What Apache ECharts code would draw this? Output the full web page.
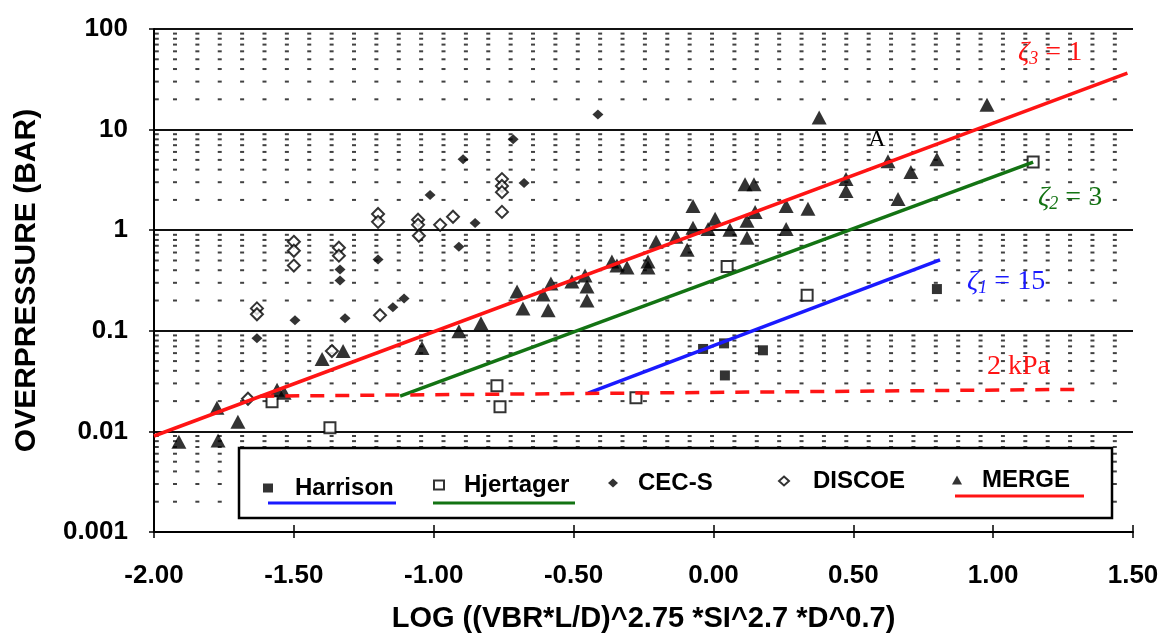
<!DOCTYPE html>
<html>
<head>
<meta charset="utf-8">
<script src="https://cdn.jsdelivr.net/npm/echarts@6/dist/echarts.min.js"></script>
<style>
html,body{margin:0;padding:0;background:#fff;}
#chart{width:1169px;height:638px;}
</style>
</head>
<body>
<div id="chart"></div>
<script>
// ---- tick labels ----
const xTickLabels = ['-2.00','-1.50','-1.00','-0.50','0.00','0.50','1.00','1.50'];
const yTickLabels = ['0.001','0.01','0.1','1','10','100'];

// ---- data series (x = LOG(...), y = overpressure in bar) ----
const harrisonX = [-0.037, 0.038, 0.177, 0.041, 0.799];
const harrisonY = [0.066, 0.075, 0.064, 0.036, 0.26];

const hjertagerX = [-1.578, -1.371, -0.774, -0.763, -0.277, 0.049, 0.335, 1.143];
const hjertagerY = [0.0197, 0.0109, 0.0284, 0.0176, 0.0216, 0.435, 0.225, 4.75];

const cecsX = [-1.632, -1.496, -1.335, -1.335, -1.317, -1.199, -1.146, -1.106, -1.013, -0.910, -0.895, -0.852, -0.716, -0.677, -0.413];
const cecsY = [0.0845, 0.127, 0.406, 0.316, 0.133, 0.511, 0.171, 0.210, 2.24, 0.686, 5.08, 1.18, 8.0, 2.94, 14.1];

const discoeX = [-1.664, -1.632, -1.632, -1.500, -1.500, -1.500, -1.364, -1.339, -1.339, -1.199, -1.199, -1.192, -1.056, -1.056, -1.053, -0.977, -0.931, -0.756, -0.756, -0.756, -0.756];
const discoeY = [0.0211, 0.167, 0.146, 0.767, 0.625, 0.445, 0.0629, 0.670, 0.558, 1.45, 1.21, 0.143, 1.27, 1.13, 0.881, 1.13, 1.36, 3.22, 2.75, 2.39, 1.52];

const mergeX = [-1.911, -1.771, -1.775, -1.700, -1.560, -1.535, -1.399, -1.324, -1.042, -0.910, -0.831, -0.702, -0.681, -0.609, -0.591, -0.581, -0.506, -0.459, -0.452, -0.452, -0.363, -0.345, -0.309, -0.234, -0.234, -0.205, -0.134, -0.094, -0.073, -0.073, -0.019, 0.006, 0.059, 0.113, 0.145, 0.120, 0.149, 0.120, 0.260, 0.260, 0.338, 0.378, 0.474, 0.474, 0.624, 0.706, 0.660, 0.799, 0.978];
const mergeY = [0.0079, 0.0081, 0.0172, 0.0125, 0.0259, 0.0242, 0.0524, 0.0629, 0.0673, 0.099, 0.119, 0.246, 0.167, 0.230, 0.160, 0.295, 0.309, 0.354, 0.276, 0.200, 0.488, 0.445, 0.425, 0.488, 0.425, 0.767, 0.861, 0.640, 1.74, 1.06, 1.03, 1.30, 1.01, 2.87, 2.87, 1.24, 1.52, 0.841, 1.74, 1.03, 1.63, 13.2, 3.22, 2.45, 4.85, 3.78, 2.04, 5.08, 17.7];

// ---- correlation lines (end points) ----
const zeta3X = [-2.0, 1.48];   const zeta3Y = [0.009, 36.5];
const zeta2X = [-1.12, 1.143]; const zeta2Y = [0.0224, 4.75];
const zeta1X = [-0.448, 0.81]; const zeta1Y = [0.024, 0.507];
const kpa2X  = [-1.62, 1.32];  const kpa2Y  = [0.0224, 0.0262];

// ---- background dotted grid: columns and log minor positions ----
const dotColStart = -1.925, dotColStep = 0.08, dotColCount = 43;
const dotMinor = [2,3,4,5,6,7,8,9];
const dotDecades = [0.001, 0.01, 0.1, 1, 10];

function pairs(xs, ys){ return xs.map((x,i)=>[x, ys[i]]); }
const dots = [];
for (let k = 0; k < dotColCount; k++) {
  const x = dotColStart + k * dotColStep;
  dotDecades.forEach(d => dotMinor.forEach(m => dots.push([x, m * d])));
}
dotDecades.forEach(d => dotMinor.forEach(m => dots.push([-1.99, m * d])));

const SANS = '"Liberation Sans", Arial, sans-serif';
const SERIF = '"Liberation Serif", "Times New Roman", serif';
const RED = '#ff1414', GREEN = '#137313', BLUE = '#1a1aff';

const chart = echarts.init(document.getElementById('chart'));

function leg(name, left, cy, pad){
  return {
    data: [name], left: left, top: cy - 12, padding: 0, z: 10,
    itemWidth: 10, itemHeight: 9, selectedMode: false,
    textStyle: {fontFamily: SANS, fontWeight: 'bold', fontSize: 24, color: '#000', padding: [0,0,0,pad]}
  };
}

const option = {
  animation: false,
  backgroundColor: '#fff',
  textStyle: {fontFamily: SANS},
  grid: {left: 154, right: 36, top: 29, bottom: 103},
  legend: [
    leg('Harrison', 263, 488, 17),
    leg('Hjertager', 433, 485, 15),
    leg('CEC-S', 608, 483, 15),
    leg('DISCOE', 778, 481, 19),
    leg('MERGE', 952, 480, 15)
  ],
  xAxis: [{
    type: 'value', min: -2, max: 1.5, interval: 0.5,
    name: 'LOG ((VBR*L/D)^2.75 *SI^2.7 *D^0.7)',
    nameLocation: 'middle', nameGap: 72,
    nameTextStyle: {fontFamily: SANS, fontWeight: 'bold', fontSize: 29, color: '#000'},
    axisLine: {show: true, onZero: false, lineStyle: {color: '#000', width: 2}},
    axisTick: {show: true, inside: false, length: 6, lineStyle: {color: '#000', width: 1.5}},
    axisLabel: {
      margin: 31, fontFamily: SANS, fontWeight: 'bold', fontSize: 26, color: '#000',
      formatter: (v) => xTickLabels[Math.round((v + 2) / 0.5)]
    },
    splitLine: {show: false}
  }, {
    type: 'value', min: -2, max: 1.5, interval: 0.5, position: 'bottom',
    axisLine: {show: false, onZero: false},
    axisTick: {show: true, inside: true, length: 7, lineStyle: {color: '#000', width: 1.5}},
    axisLabel: {show: false}, splitLine: {show: false}
  }],
  yAxis: {
    type: 'log', logBase: 10, min: 0.001, max: 100,
    name: 'OVERPRESSURE (BAR)',
    nameLocation: 'middle', nameGap: 112,
    nameTextStyle: {fontFamily: SANS, fontWeight: 'bold', fontSize: 30, color: '#000'},
    axisLine: {show: true, onZero: false, lineStyle: {color: '#000', width: 2}},
    axisTick: {show: true, inside: false, length: 5, lineStyle: {color: '#000', width: 1.5}},
    axisLabel: {
      margin: 26, fontFamily: SANS, fontWeight: 'bold', fontSize: 26, color: '#000',
      formatter: (v) => yTickLabels[Math.round(Math.log10(v)) + 3]
    },
    splitLine: {show: true, lineStyle: {color: '#111', width: 2}}
  },
  series: [
    {
      name: '_dots', type: 'scatter', data: dots, silent: true, z: 1,
      symbol: 'rect', symbolSize: [4, 2], itemStyle: {color: '#111'}
    },
    {
      name: 'Harrison', type: 'scatter', data: pairs(harrisonX, harrisonY), z: 3,
      symbol: 'rect', symbolSize: 10, itemStyle: {color: '#000'}
    },
    {
      name: 'Hjertager', type: 'scatter', data: pairs(hjertagerX, hjertagerY), z: 3,
      symbol: 'emptyRect', symbolSize: 11, itemStyle: {color: '#000', borderWidth: 2.5}
    },
    {
      name: 'CEC-S', type: 'scatter', data: pairs(cecsX, cecsY), z: 3,
      symbol: 'diamond', symbolSize: [11, 10], itemStyle: {color: '#000'}
    },
    {
      name: 'DISCOE', type: 'scatter', data: pairs(discoeX, discoeY), z: 3,
      symbol: 'emptyDiamond', symbolSize: 12, itemStyle: {color: '#000', borderWidth: 2.5}
    },
    {
      name: 'MERGE', type: 'scatter', data: pairs(mergeX, mergeY), z: 3,
      symbol: 'triangle', symbolSize: [15, 14], itemStyle: {color: '#000'}
    },
    {
      name: 'zeta3', type: 'line', data: pairs(zeta3X, zeta3Y), z: 5, silent: true,
      symbol: 'none', lineStyle: {color: RED, width: 3.5}
    },
    {
      name: 'zeta2', type: 'line', data: pairs(zeta2X, zeta2Y), z: 5, silent: true,
      symbol: 'none', lineStyle: {color: GREEN, width: 3.5}
    },
    {
      name: 'zeta1', type: 'line', data: pairs(zeta1X, zeta1Y), z: 5, silent: true,
      symbol: 'none', lineStyle: {color: BLUE, width: 3.5}
    },
    {
      name: '2kPa', type: 'line', data: pairs(kpa2X, kpa2Y), z: 5, silent: true,
      symbol: 'none', lineStyle: {color: RED, width: 3.5, type: [14, 11]}
    }
  ],
  graphic: [
    {type: 'rect', z: 3, shape: {x: 239, y: 448, width: 873, height: 70},
     style: {fill: '#fff', stroke: '#000', lineWidth: 2.5}},
    {type: 'line', z: 11, shape: {x1: 268, y1: 503, x2: 396, y2: 503}, style: {stroke: BLUE, lineWidth: 3}},
    {type: 'line', z: 11, shape: {x1: 433, y1: 503, x2: 575, y2: 503}, style: {stroke: GREEN, lineWidth: 3}},
    {type: 'line', z: 11, shape: {x1: 955, y1: 496, x2: 1084, y2: 496}, style: {stroke: RED, lineWidth: 3}},
    {type: 'text', z: 11, x: 1018, y: 53, style: {
      text: '{z|ζ}{s|3}{t| = 1}', fill: RED, verticalAlign: 'middle',
      rich: {z: {fontFamily: SERIF, fontStyle: 'italic', fontSize: 28, lineHeight: 30, fill: RED},
             s: {fontFamily: SERIF, fontStyle: 'italic', fontSize: 18, lineHeight: 16, fill: RED, verticalAlign: 'bottom'},
             t: {fontFamily: SERIF, fontSize: 28, lineHeight: 30, fill: RED}}}},
    {type: 'text', z: 11, x: 1038, y: 198, style: {
      text: '{z|ζ}{s|2}{t| = 3}', fill: GREEN, verticalAlign: 'middle',
      rich: {z: {fontFamily: SERIF, fontStyle: 'italic', fontSize: 28, lineHeight: 30, fill: GREEN},
             s: {fontFamily: SERIF, fontStyle: 'italic', fontSize: 18, lineHeight: 16, fill: GREEN, verticalAlign: 'bottom'},
             t: {fontFamily: SERIF, fontSize: 28, lineHeight: 30, fill: GREEN}}}},
    {type: 'text', z: 11, x: 967, y: 282, style: {
      text: '{z|ζ}{s|1}{t| = 15}', fill: BLUE, verticalAlign: 'middle',
      rich: {z: {fontFamily: SERIF, fontStyle: 'italic', fontSize: 28, lineHeight: 30, fill: BLUE},
             s: {fontFamily: SERIF, fontStyle: 'italic', fontSize: 18, lineHeight: 16, fill: BLUE, verticalAlign: 'bottom'},
             t: {fontFamily: SERIF, fontSize: 28, lineHeight: 30, fill: BLUE}}}},
    {type: 'text', z: 11, x: 987, y: 367, style: {
      text: '2 kPa', fill: RED, fontFamily: SERIF, fontSize: 28, verticalAlign: 'middle'}},
    {type: 'text', z: 11, x: 877, y: 140, style: {
      text: 'A', fill: '#000', fontFamily: SERIF, fontSize: 24, align: 'center', verticalAlign: 'middle'}}
  ]
};
chart.setOption(option);
</script>
</body>
</html>
